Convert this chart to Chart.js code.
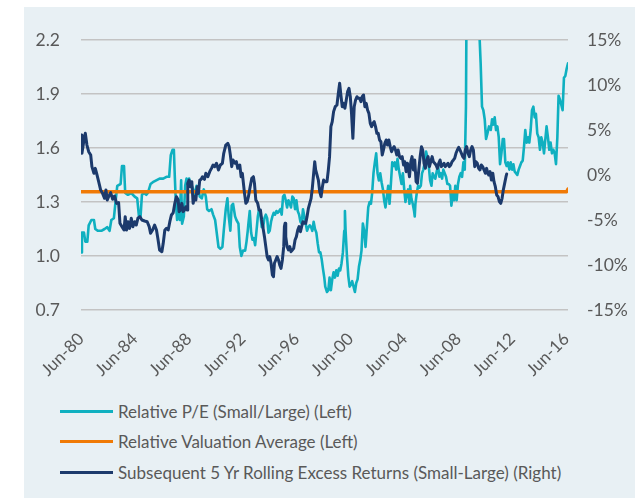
<!DOCTYPE html>
<html>
<head>
<meta charset="utf-8">
<script src="https://cdn.jsdelivr.net/npm/chart.js@4.4.0/dist/chart.umd.min.js"></script>
<style>
  body { margin: 0; background: #fff; font-family: Lato, sans-serif; }
  #panel { position: absolute; left: 24px; top: 7px; width: 611px; height: 491px; background: #e8f0f4; }
  #chart-box { position: absolute; left: 0; top: 0; width: 611px; height: 385px; }
  #legend { position: absolute; left: 36px; top: 389px; }
  .item { display: flex; align-items: center; height: 30.5px; font-size: 17px; color: #595959; white-space: nowrap; }
  .swatch { width: 53px; height: 3px; margin-right: 5px; }
</style>
</head>
<body>
<div id="panel">
  <div id="chart-box"><canvas id="chart"></canvas></div>
  <div id="legend"></div>
</div>
<script>
const tickYears = [1980.5, 1984.5, 1988.5, 1992.5, 1996.5, 2000.5, 2004.5, 2008.5, 2012.5, 2016.5];
const tickLabels = ['Jun-80', 'Jun-84', 'Jun-88', 'Jun-92', 'Jun-96', 'Jun-00', 'Jun-04', 'Jun-08', 'Jun-12', 'Jun-16'];
const leftTicks = [0.7, 1.0, 1.3, 1.6, 1.9, 2.2];
const rightTicks = [-15, -10, -5, 0, 5, 10, 15];

// Relative P/E (Small/Large), left axis
const peYears = [
  1980.50, 1980.57, 1980.72, 1980.82, 1980.97, 1981.07, 1981.27, 1981.46, 1981.56, 1981.76,
  1982.01, 1982.25, 1982.45, 1982.62, 1982.75, 1982.94, 1983.06, 1983.19, 1983.44, 1983.54,
  1983.69, 1983.78, 1983.98, 1984.23, 1984.48, 1984.67, 1984.80, 1984.92, 1985.02, 1985.17,
  1985.34, 1985.46, 1985.66, 1985.83, 1986.08, 1986.33, 1986.60, 1986.84, 1987.04, 1987.16,
  1987.29, 1987.39, 1987.46, 1987.54, 1987.63, 1987.73, 1987.83, 1987.93, 1988.00, 1988.13,
  1988.23, 1988.33, 1988.42, 1988.52, 1988.62, 1988.72, 1988.82, 1988.92, 1989.07, 1989.21,
  1989.31, 1989.46, 1989.61, 1989.76, 1989.86, 1990.00, 1990.18, 1990.30, 1990.45, 1990.60,
  1990.70, 1990.84, 1990.99, 1991.09, 1991.24, 1991.36, 1991.46, 1991.58, 1991.68, 1991.78,
  1991.93, 1992.03, 1992.18, 1992.28, 1992.40, 1992.52, 1992.68, 1992.78, 1992.87, 1992.92,
  1993.02, 1993.12, 1993.22, 1993.32, 1993.42, 1993.52, 1993.62, 1993.71, 1993.81, 1993.91,
  1994.01, 1994.11, 1994.21, 1994.31, 1994.41, 1994.50, 1994.60, 1994.70, 1994.80, 1994.90,
  1995.00, 1995.10, 1995.20, 1995.29, 1995.39, 1995.49, 1995.59, 1995.69, 1995.79, 1995.89,
  1995.99, 1996.08, 1996.18, 1996.28, 1996.38, 1996.48, 1996.58, 1996.68, 1996.78, 1996.87,
  1996.97, 1997.07, 1997.17, 1997.27, 1997.37, 1997.47, 1997.57, 1997.66, 1997.76, 1997.86,
  1997.96, 1998.06, 1998.16, 1998.26, 1998.36, 1998.45, 1998.55, 1998.62, 1998.75, 1998.85,
  1998.94, 1999.04, 1999.14, 1999.24, 1999.34, 1999.44, 1999.54, 1999.64, 1999.73, 1999.83,
  1999.93, 2000.03, 2000.08, 2000.13, 2000.23, 2000.33, 2000.43, 2000.52, 2000.62, 2000.72,
  2000.82, 2000.92, 2001.02, 2001.12, 2001.22, 2001.31, 2001.41, 2001.51, 2001.61, 2001.71,
  2001.81, 2001.91, 2002.01, 2002.10, 2002.20, 2002.30, 2002.40, 2002.50, 2002.60, 2002.70,
  2002.80, 2002.90, 2002.99, 2003.09, 2003.19, 2003.29, 2003.39, 2003.49, 2003.59, 2003.69,
  2003.78, 2003.88, 2003.98, 2004.08, 2004.18, 2004.28, 2004.38, 2004.48, 2004.57, 2004.67,
  2004.77, 2004.87, 2004.92, 2005.01, 2005.11, 2005.21, 2005.26, 2005.31, 2005.41, 2005.51,
  2005.61, 2005.71, 2005.80, 2005.90, 2006.00, 2006.10, 2006.20, 2006.30, 2006.40, 2006.50,
  2006.59, 2006.69, 2006.79, 2006.89, 2006.99, 2007.09, 2007.19, 2007.29, 2007.38, 2007.48,
  2007.58, 2007.68, 2007.78, 2007.88, 2007.98, 2008.08, 2008.18, 2008.27, 2008.37, 2008.47,
  2008.57, 2008.67, 2008.77, 2008.87, 2008.97, 2009.06, 2009.11, 2009.30, 2009.60, 2009.85,
  2010.05, 2010.15, 2010.25, 2010.35, 2010.45, 2010.55, 2010.65, 2010.77, 2010.90, 2011.00,
  2011.09, 2011.19, 2011.29, 2011.39, 2011.49, 2011.59, 2011.69, 2011.79, 2011.88, 2011.98,
  2012.08, 2012.18, 2012.28, 2012.38, 2012.48, 2012.58, 2012.67, 2012.77, 2012.87, 2012.97,
  2013.07, 2013.17, 2013.27, 2013.37, 2013.46, 2013.56, 2013.66, 2013.76, 2013.86, 2013.96,
  2014.06, 2014.16, 2014.25, 2014.35, 2014.45, 2014.55, 2014.65, 2014.75, 2014.85, 2014.95,
  2015.04, 2015.14, 2015.24, 2015.34, 2015.44, 2015.54, 2015.64, 2015.74, 2015.84, 2015.93,
  2016.03, 2016.13, 2016.23, 2016.33, 2016.43, 2016.53, 2016.63
];
const peValues = [
  1.02, 1.13, 1.13, 1.08, 1.08, 1.17, 1.20, 1.20, 1.15, 1.14,
  1.14, 1.15, 1.16, 1.14, 1.20, 1.21, 1.30, 1.39, 1.40, 1.50,
  1.50, 1.35, 1.34, 1.35, 1.33, 1.32, 1.22, 1.22, 1.34, 1.35,
  1.34, 1.35, 1.40, 1.41, 1.42, 1.43, 1.43, 1.44, 1.44, 1.56,
  1.59, 1.59, 1.44, 1.29, 1.20, 1.29, 1.20, 1.42, 1.18, 1.22,
  1.39, 1.43, 1.40, 1.43, 1.39, 1.39, 1.37, 1.33, 1.39, 1.37,
  1.33, 1.32, 1.37, 1.33, 1.26, 1.25, 1.26, 1.23, 1.20, 1.11,
  1.05, 1.04, 1.05, 1.14, 1.26, 1.32, 1.22, 1.14, 1.28, 1.29,
  1.22, 1.20, 1.18, 1.05, 1.00, 1.03, 1.03, 1.08, 1.14, 1.18,
  1.25, 1.13, 1.09, 1.10, 1.06, 1.14, 1.22, 1.26, 1.23, 1.16,
  1.16, 1.21, 1.23, 1.21, 1.13, 1.14, 1.19, 1.22, 1.24, 1.23,
  1.25, 1.24, 1.25, 1.26, 1.23, 1.33, 1.34, 1.31, 1.27, 1.31,
  1.29, 1.27, 1.33, 1.32, 1.26, 1.31, 1.25, 1.23, 1.19, 1.18,
  1.26, 1.22, 1.18, 1.14, 1.16, 1.17, 1.16, 1.14, 1.19, 1.15,
  1.13, 1.07, 1.02, 1.02, 0.98, 0.93, 0.88, 0.83, 0.80, 0.81,
  0.88, 0.81, 0.87, 0.91, 0.88, 0.92, 0.89, 0.93, 0.92, 0.96,
  1.02, 1.14, 1.25, 1.14, 1.00, 0.89, 0.83, 0.84, 0.86, 0.83,
  0.80, 0.85, 0.87, 0.94, 0.98, 1.03, 1.18, 1.14, 1.05, 1.16,
  1.27, 1.30, 1.29, 1.35, 1.46, 1.52, 1.57, 1.46, 1.42, 1.46,
  1.41, 1.37, 1.31, 1.27, 1.33, 1.39, 1.29, 1.40, 1.52, 1.50,
  1.52, 1.48, 1.54, 1.48, 1.44, 1.40, 1.46, 1.37, 1.30, 1.34,
  1.37, 1.29, 1.39, 1.32, 1.29, 1.25, 1.22, 1.29, 1.35, 1.39,
  1.38, 1.39, 1.46, 1.48, 1.52, 1.58, 1.55, 1.50, 1.42, 1.39,
  1.46, 1.44, 1.43, 1.47, 1.50, 1.44, 1.46, 1.43, 1.48, 1.46,
  1.44, 1.40, 1.40, 1.39, 1.28, 1.35, 1.31, 1.39, 1.31, 1.40,
  1.44, 1.46, 1.44, 1.52, 1.48, 1.83, 2.50, 3.00, 3.20, 2.60,
  2.25, 2.07, 1.83, 1.81, 1.76, 1.65, 1.68, 1.72, 1.70, 1.76,
  1.73, 1.77, 1.70, 1.72, 1.66, 1.51, 1.57, 1.65, 1.65, 1.52,
  1.50, 1.52, 1.48, 1.52, 1.48, 1.51, 1.47, 1.46, 1.45, 1.48,
  1.50, 1.52, 1.53, 1.61, 1.70, 1.63, 1.66, 1.63, 1.70, 1.81,
  1.83, 1.77, 1.79, 1.68, 1.66, 1.59, 1.66, 1.63, 1.57, 1.65,
  1.72, 1.66, 1.59, 1.63, 1.57, 1.59, 1.57, 1.51, 1.66, 1.89,
  1.87, 1.84, 1.81, 1.99, 2.00, 2.04, 2.07
];

// Relative Valuation Average, left axis
const avgYears = [1980.5, 2016.53, 2016.63];
const avgValues = [1.357, 1.357, 1.372];

// Subsequent 5 Yr Rolling Excess Returns (Small-Large), right axis, in %
const retYears = [
  1980.50, 1980.57, 1980.72, 1980.82, 1980.94, 1981.07, 1981.22, 1981.31, 1981.46, 1981.56,
  1981.66, 1981.81, 1981.96, 1982.10, 1982.25, 1982.35, 1982.45, 1982.55, 1982.70, 1982.85,
  1982.99, 1983.14, 1983.29, 1983.39, 1983.54, 1983.69, 1983.78, 1983.88, 1983.98, 1984.10,
  1984.23, 1984.35, 1984.48, 1984.60, 1984.72, 1984.87, 1985.02, 1985.22, 1985.41, 1985.56,
  1985.66, 1985.81, 1985.96, 1986.10, 1986.20, 1986.33, 1986.50, 1986.60, 1986.72, 1986.84,
  1986.97, 1987.09, 1987.21, 1987.34, 1987.46, 1987.58, 1987.71, 1987.78, 1987.88, 1987.98,
  1988.08, 1988.18, 1988.28, 1988.37, 1988.42, 1988.52, 1988.62, 1988.72, 1988.82, 1988.92,
  1989.02, 1989.12, 1989.21, 1989.31, 1989.41, 1989.51, 1989.66, 1989.76, 1989.91, 1990.05,
  1990.18, 1990.30, 1990.42, 1990.55, 1990.70, 1990.84, 1990.99, 1991.09, 1991.24, 1991.39,
  1991.49, 1991.58, 1991.68, 1991.78, 1991.93, 1992.03, 1992.13, 1992.28, 1992.38, 1992.47,
  1992.63, 1992.73, 1992.83, 1992.92, 1993.05, 1993.17, 1993.29, 1993.37, 1993.47, 1993.61,
  1993.71, 1993.81, 1993.91, 1994.01, 1994.11, 1994.21, 1994.31, 1994.41, 1994.50, 1994.60,
  1994.70, 1994.78, 1994.85, 1994.95, 1995.05, 1995.15, 1995.24, 1995.34, 1995.44, 1995.54,
  1995.59, 1995.64, 1995.69, 1995.79, 1995.89, 1995.99, 1996.08, 1996.18, 1996.28, 1996.38,
  1996.48, 1996.58, 1996.68, 1996.78, 1996.87, 1996.97, 1997.07, 1997.17, 1997.27, 1997.37,
  1997.47, 1997.57, 1997.66, 1997.76, 1997.84, 1997.91, 1998.01, 1998.11, 1998.21, 1998.31,
  1998.41, 1998.50, 1998.60, 1998.75, 1998.85, 1998.94, 1999.04, 1999.14, 1999.24, 1999.36,
  1999.49, 1999.59, 1999.69, 1999.78, 1999.88, 1999.98, 2000.08, 2000.18, 2000.28, 2000.38,
  2000.48, 2000.57, 2000.67, 2000.77, 2000.87, 2000.97, 2001.07, 2001.17, 2001.27, 2001.36,
  2001.46, 2001.56, 2001.66, 2001.76, 2001.86, 2001.96, 2002.06, 2002.15, 2002.25, 2002.35,
  2002.45, 2002.55, 2002.65, 2002.75, 2002.85, 2002.94, 2003.04, 2003.14, 2003.24, 2003.34,
  2003.44, 2003.54, 2003.64, 2003.73, 2003.83, 2003.93, 2004.03, 2004.13, 2004.23, 2004.33,
  2004.43, 2004.52, 2004.62, 2004.72, 2004.77, 2004.87, 2004.97, 2005.06, 2005.16, 2005.26,
  2005.36, 2005.46, 2005.56, 2005.66, 2005.76, 2005.85, 2005.95, 2006.05, 2006.15, 2006.25,
  2006.35, 2006.45, 2006.55, 2006.64, 2006.74, 2006.84, 2006.94, 2007.04, 2007.14, 2007.24,
  2007.34, 2007.43, 2007.53, 2007.63, 2007.73, 2007.83, 2007.93, 2008.03, 2008.13, 2008.22,
  2008.32, 2008.42, 2008.52, 2008.62, 2008.72, 2008.82, 2008.92, 2009.01, 2009.11, 2009.21,
  2009.31, 2009.41, 2009.51, 2009.61, 2009.71, 2009.80, 2009.90, 2010.00, 2010.10, 2010.20,
  2010.30, 2010.40, 2010.50, 2010.59, 2010.69, 2010.75, 2010.85, 2010.95, 2011.05, 2011.14,
  2011.24, 2011.34, 2011.44, 2011.54, 2011.64, 2011.74, 2011.83, 2011.93, 2012.03, 2012.08
];
const retValues = [
  4.44, 2.41, 3.89, 4.63, 3.33, 2.59, 2.22, 0.93, 0.19, 0.74,
  0.19, -0.74, -1.67, -2.04, -2.59, -1.67, -2.78, -2.41, -1.96, -2.70,
  -2.33, -3.15, -3.07, -5.37, -5.74, -6.11, -4.63, -6.11, -5.19, -5.93,
  -4.81, -5.74, -5.19, -5.56, -4.81, -4.63, -5.00, -5.11, -5.19, -5.74,
  -6.48, -6.11, -5.56, -6.11, -7.04, -8.33, -8.52, -7.59, -6.11, -5.93,
  -6.11, -5.19, -4.44, -4.19, -3.15, -2.41, -2.78, -4.07, -3.89, -3.15,
  -4.07, -3.89, -3.52, -3.89, -0.93, -0.56, -1.30, -0.74, -3.15, -2.41,
  -2.78, -1.30, -2.04, -0.56, -0.48, -0.19, -0.48, 0.19, -0.19, 0.37,
  0.74, 1.11, 0.93, 1.30, 0.56, 1.11, 1.30, 2.41, 3.33, 3.52,
  3.15, 2.22, 0.93, 1.67, 1.30, 1.48, 0.74, 1.11, -0.19, 0.19,
  -2.04, -3.15, -2.96, -2.41, -1.30, -0.37, -0.19, -0.93, -2.78, -3.15,
  -3.89, -3.89, -5.00, -5.93, -6.85, -7.96, -9.07, -9.44, -9.07, -9.81,
  -11.11, -11.30, -9.81, -9.44, -9.07, -9.44, -10.00, -10.37, -9.44, -7.96,
  -5.74, -5.37, -6.85, -7.96, -8.33, -7.96, -8.52, -8.33, -8.15, -7.22,
  -6.85, -6.11, -5.74, -6.30, -5.74, -5.19, -5.37, -5.37, -4.63, -3.70,
  -3.15, -2.59, -1.48, 0.19, 1.48, 0.56, 0.00, -0.56, -1.85, -2.41,
  -1.30, -0.56, -0.74, -0.74, 0.56, 2.04, 5.37, 5.93, 7.04, 7.59,
  7.78, 9.07, 10.19, 8.89, 7.59, 7.96, 7.41, 8.33, 9.26, 9.63,
  8.70, 6.85, 4.07, 7.59, 8.33, 8.70, 8.52, 8.52, 8.15, 8.70,
  8.89, 7.59, 7.96, 7.22, 6.85, 5.74, 5.37, 5.74, 5.93, 5.37,
  4.63, 4.63, 3.89, 3.70, 2.22, 2.78, 3.52, 3.89, 3.33, 3.89,
  3.15, 2.59, 2.96, 3.15, 2.78, 2.22, 2.78, 2.04, 1.85, 2.04,
  1.11, 1.48, 0.37, 1.30, 0.93, -0.19, 1.48, 2.04, 0.56, 1.67,
  -0.74, -0.93, 0.56, 2.04, 3.15, 2.78, 1.30, 0.74, 1.67, 2.04,
  0.93, 1.48, 2.04, 1.48, 1.30, 1.11, 0.74, 1.30, 1.67, 0.93,
  1.11, 1.30, 0.93, 1.11, 1.30, 0.93, 1.11, 1.48, 1.67, 1.85,
  2.41, 2.78, 3.07, 2.78, 2.41, 2.04, 1.85, 2.78, 3.15, 2.41,
  2.04, 2.78, 3.15, 2.78, 0.93, 1.48, 1.30, 0.74, 0.56, 1.11,
  0.93, 0.56, 0.19, 0.74, 0.19, 0.00, 0.37, -0.56, 0.19, -0.74,
  -1.30, -2.22, -2.41, -2.96, -3.15, -2.59, -1.67, -0.93, -0.19, 0.11
];

const seriesLabels = [
  'Relative P/E (Small/Large) (Left)',
  'Relative Valuation Average (Left)',
  'Subsequent 5 Yr Rolling Excess Returns (Small-Large) (Right)'
];
const seriesColors = ['#0fb0c0', '#f07a06', '#1c3a6c'];

const toPoints = (xs, ys) => xs.map((x, i) => ({ x: x, y: ys[i] }));
const textColor = '#595959';
const fontFamily = 'Lato, sans-serif';

const ctx = document.getElementById('chart').getContext('2d');

const chart = new Chart(ctx, {
  type: 'line',
  data: {
    datasets: [
      {
        label: seriesLabels[0],
        data: toPoints(peYears, peValues),
        borderColor: seriesColors[0],
        borderWidth: 2.6,
        yAxisID: 'y',
        order: 3
      },
      {
        label: seriesLabels[1],
        data: toPoints(avgYears, avgValues),
        borderColor: seriesColors[1],
        borderWidth: 3.5,
        yAxisID: 'y',
        order: 2
      },
      {
        label: seriesLabels[2],
        data: toPoints(retYears, retValues),
        borderColor: seriesColors[2],
        borderWidth: 3,
        yAxisID: 'y1',
        order: 1
      }
    ]
  },
  options: {
    responsive: true,
    maintainAspectRatio: false,
    animation: false,
    layout: { padding: { top: 33, left: 0, right: 0, bottom: 0 } },
    elements: {
      point: { radius: 0 },
      line: { tension: 0, borderJoinStyle: 'round', borderCapStyle: 'round' }
    },
    plugins: {
      legend: { display: false },
      tooltip: { enabled: false }
    },
    scales: {
      x: {
        type: 'linear',
        min: 1980.5,
        max: 2016.63,
        grid: { display: false, drawTicks: false },
        border: { display: false },
        afterBuildTicks: s => { s.ticks = tickYears.map(v => ({ value: v })); },
        afterFit: s => { s.height = 82; },
        ticks: {
          autoSkip: false,
          minRotation: 45,
          maxRotation: 45,
          padding: 19,
          color: textColor,
          font: { family: fontFamily, size: 17 },
          callback: (v, i) => tickLabels[i]
        }
      },
      y: {
        position: 'left',
        min: 0.7,
        max: 2.2,
        grid: { color: '#c3c3c3', lineWidth: 1.5, drawTicks: false },
        border: { display: false },
        afterBuildTicks: s => { s.ticks = leftTicks.map(v => ({ value: v })); },
        afterFit: s => { s.width = 57; },
        ticks: {
          padding: 21,
          color: textColor,
          font: { family: fontFamily, size: 17.5 },
          callback: v => v.toFixed(1)
        }
      },
      y1: {
        position: 'right',
        min: -15,
        max: 15,
        grid: { display: false, drawTicks: false },
        border: { display: false },
        afterBuildTicks: s => { s.ticks = rightTicks.map(v => ({ value: v })); },
        afterFit: s => { s.width = 67; },
        ticks: {
          padding: 19,
          color: textColor,
          font: { family: fontFamily, size: 17.5 },
          callback: v => v + '%'
        }
      }
    }
  }
});

// legend drawn as html so each series sits on its own row like the original
const legend = document.getElementById('legend');
chart.data.datasets.forEach(ds => {
  const row = document.createElement('div');
  row.className = 'item';
  row.innerHTML = `<span class="swatch" style="background:${ds.borderColor}"></span><span>${ds.label}</span>`;
  legend.appendChild(row);
});
</script>
</body>
</html>
